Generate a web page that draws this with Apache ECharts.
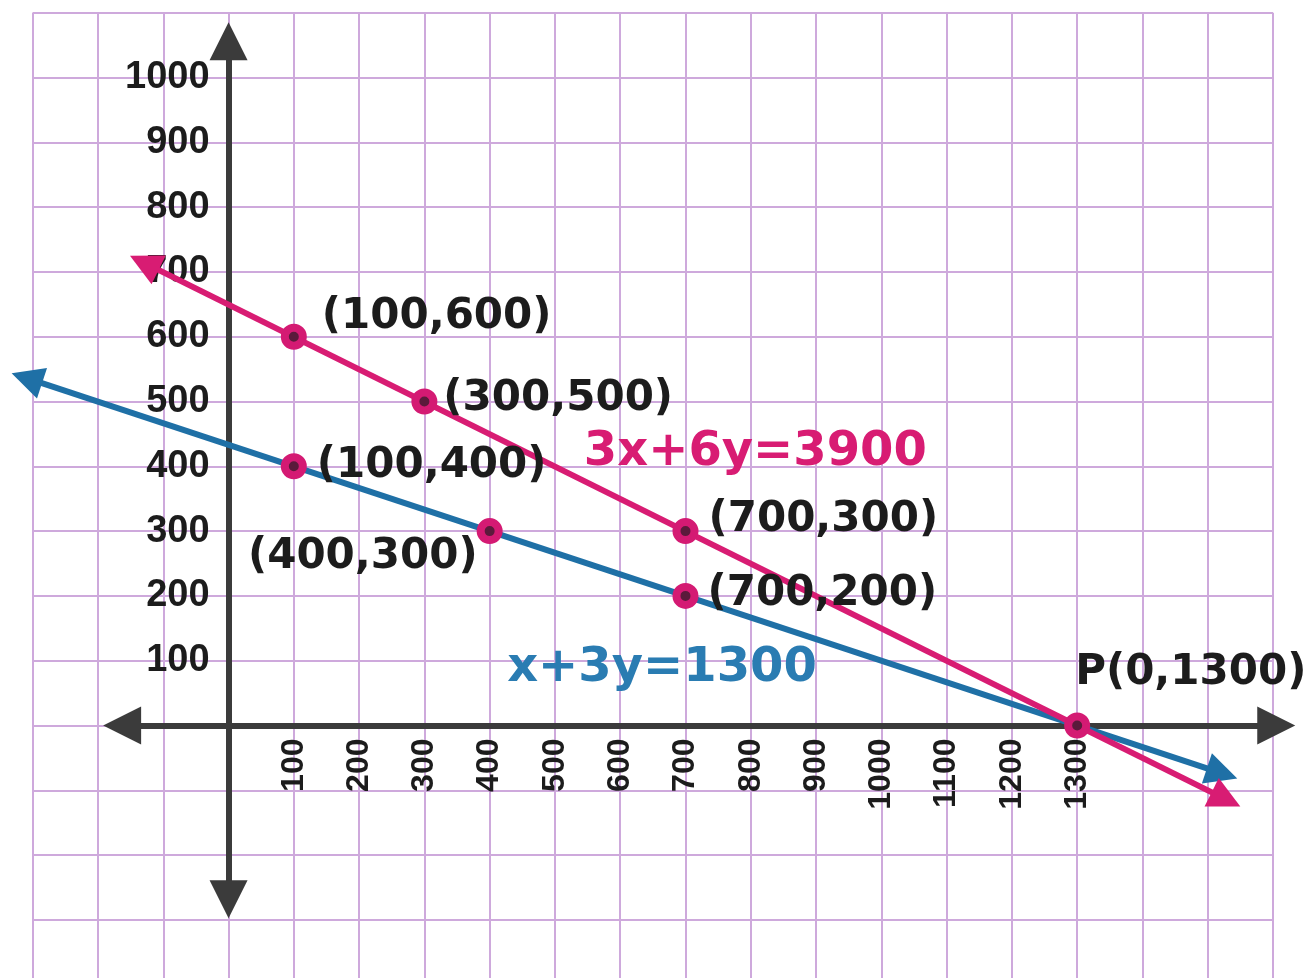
<!DOCTYPE html>
<html>
<head>
<meta charset="utf-8">
<script src="https://cdn.jsdelivr.net/npm/echarts@6/dist/echarts.min.js"></script>
<style>
html,body{margin:0;padding:0;background:#ffffff;}
#chart{width:1311px;height:978px;}
</style>
</head>
<body>
<div id="chart"></div>
<script>
// ---------------- data ----------------
const xTickLabels = ['100','200','300','400','500','600','700','800','900','1000','1100','1200','1300'];
const yTickLabels = ['100','200','300','400','500','600','700','800','900','1000'];

const pinkPoints = [[100, 600], [300, 500], [700, 300]];
const pinkPointLabels = ['(100,600)', '(300,500)', '(700,300)'];
const bluePoints = [[100, 400], [400, 300], [700, 200]];
const bluePointLabels = ['(100,400)', '(400,300)', '(700,200)'];
const intersectionPoint = [1300, 0];
const intersectionLabel = 'P(0,1300)';

// line ends (arrow-head centres)
const pinkLineEnds = [[-129, 714], [1528, -114]];
const blueLineEnds = [[-309, 536], [1522, -74]];
const xAxisEnds = [[-163, 0], [1605, 0]];
const yAxisEnds = [[0, 1056], [0, -268]];

const equationLabels = ['3x+6y=3900', 'x+3y=1300'];
const equationAnchors = [[807, 421], [664, 88]];

// ---------------- layout / style ----------------
const X_MIN = -300, X_MAX = 1600, Y_MIN = -400, Y_MAX = 1100;
const GRID = { left: 32.7, top: 12.7, width: 1240.3, height: 972 };
// shift the axes (and their labels) onto x = 0 / y = 0
const yAxisShift = (0 - X_MIN) / (X_MAX - X_MIN) * GRID.width;
const xAxisShift = (0 - Y_MIN) / (Y_MAX - Y_MIN) * GRID.height;

const labelLayout = {
  '(100,600)': { align: 'left',  offset: [28, -20] },
  '(300,500)': { align: 'left',  offset: [19, -2] },
  '(700,300)': { align: 'left',  offset: [23, -11] },
  '(100,400)': { align: 'left',  offset: [23, 0] },
  '(400,300)': { align: 'right', offset: [-12, 26] },
  '(700,200)': { align: 'left',  offset: [22, -2] },
  'P(0,1300)': { align: 'left',  offset: [-2, -52] }
};
const PINK = '#d81c73';
const BLUE = '#1f70a6';
const AXIS = '#3b3b3b';
const GRIDLINE = '#cea9dc';

function pointItem(pt, text) {
  const l = labelLayout[text];
  return {
    value: pt,
    label: { formatter: text, align: l.align, offset: l.offset }
  };
}

const pointData = [];
pinkPoints.forEach((p, i) => pointData.push(pointItem(p, pinkPointLabels[i])));
bluePoints.forEach((p, i) => pointData.push(pointItem(p, bluePointLabels[i])));
pointData.push(pointItem(intersectionPoint, intersectionLabel));

const chart = echarts.init(document.getElementById('chart'), null, { renderer: 'canvas' });

const option = {
  backgroundColor: '#ffffff',
  animation: false,
  grid: {
    left: GRID.left, top: GRID.top, width: GRID.width, height: GRID.height,
    containLabel: false, outerBoundsMode: 'none'
  },
  xAxis: {
    type: 'value', min: X_MIN, max: X_MAX, interval: 100,
    position: 'bottom', offset: -xAxisShift,
    axisLine: { show: false, onZero: false },
    axisTick: { show: false },
    splitLine: { show: true, showMinLine: true, showMaxLine: true, lineStyle: { color: GRIDLINE, width: 2 } },
    axisLabel: {
      show: true, rotate: 90, margin: 13,
      fontFamily: 'Liberation Sans', fontWeight: 'bold', fontSize: 32, color: '#1c1c1c',
      formatter: v => (xTickLabels.indexOf(String(v)) >= 0 ? String(v) : '')
    }
  },
  yAxis: {
    type: 'value', min: Y_MIN, max: Y_MAX, interval: 100,
    position: 'left', offset: -yAxisShift,
    axisLine: { show: false, onZero: false },
    axisTick: { show: false },
    splitLine: { show: true, showMinLine: true, showMaxLine: true, lineStyle: { color: GRIDLINE, width: 2 } },
    axisLabel: {
      show: true, margin: 19, padding: [5, 0, 0, 0],
      fontFamily: 'Liberation Sans', fontWeight: 'bold', fontSize: 38, color: '#1c1c1c',
      formatter: v => (yTickLabels.indexOf(String(v)) >= 0 ? String(v) : '')
    }
  },
  series: [
    {
      name: 'axes', type: 'lines', coordinateSystem: 'cartesian2d', clip: false, z: 2,
      symbol: ['triangle', 'triangle'], symbolSize: 38,
      lineStyle: { color: AXIS, width: 6, opacity: 1 },
      data: [{ coords: xAxisEnds }, { coords: yAxisEnds }]
    },
    {
      name: 'blue line', type: 'lines', coordinateSystem: 'cartesian2d', clip: false, z: 3,
      symbol: ['triangle', 'triangle'], symbolSize: 32,
      lineStyle: { color: BLUE, width: 6, opacity: 1 },
      data: [{ coords: blueLineEnds }]
    },
    {
      name: 'pink line', type: 'lines', coordinateSystem: 'cartesian2d', clip: false, z: 3,
      symbol: ['triangle', 'triangle'], symbolSize: 32,
      lineStyle: { color: PINK, width: 6, opacity: 1 },
      data: [{ coords: pinkLineEnds }]
    },
    {
      name: 'points', type: 'scatter', z: 4, clip: false,
      symbol: 'circle', symbolSize: 18,
      itemStyle: { color: '#5b1a3b', borderColor: '#d41a73', borderWidth: 8, opacity: 1 },
      label: {
        show: true, position: 'inside', verticalAlign: 'middle',
        fontFamily: 'DejaVu Sans', fontWeight: 'bold', fontSize: 42, color: '#1c1c1c',
        textBorderWidth: 0, textBorderColor: 'transparent'
      },
      emphasis: { disabled: true },
      data: pointData
    },
    {
      name: 'equations', type: 'scatter', z: 5, clip: false,
      symbolSize: 1, itemStyle: { color: 'rgba(0,0,0,0)', opacity: 1 },
      label: {
        show: true, position: 'inside', align: 'center', verticalAlign: 'middle',
        fontFamily: 'DejaVu Sans', fontWeight: 'bold', fontSize: 48, opacity: 1,
        textBorderWidth: 0, textBorderColor: 'transparent'
      },
      emphasis: { disabled: true },
      data: [
        { value: equationAnchors[0], label: { formatter: equationLabels[0], color: PINK } },
        { value: equationAnchors[1], label: { formatter: equationLabels[1], color: '#2a7cb2' } }
      ]
    }
  ]
};
chart.setOption(option);
</script>
</body>
</html>
